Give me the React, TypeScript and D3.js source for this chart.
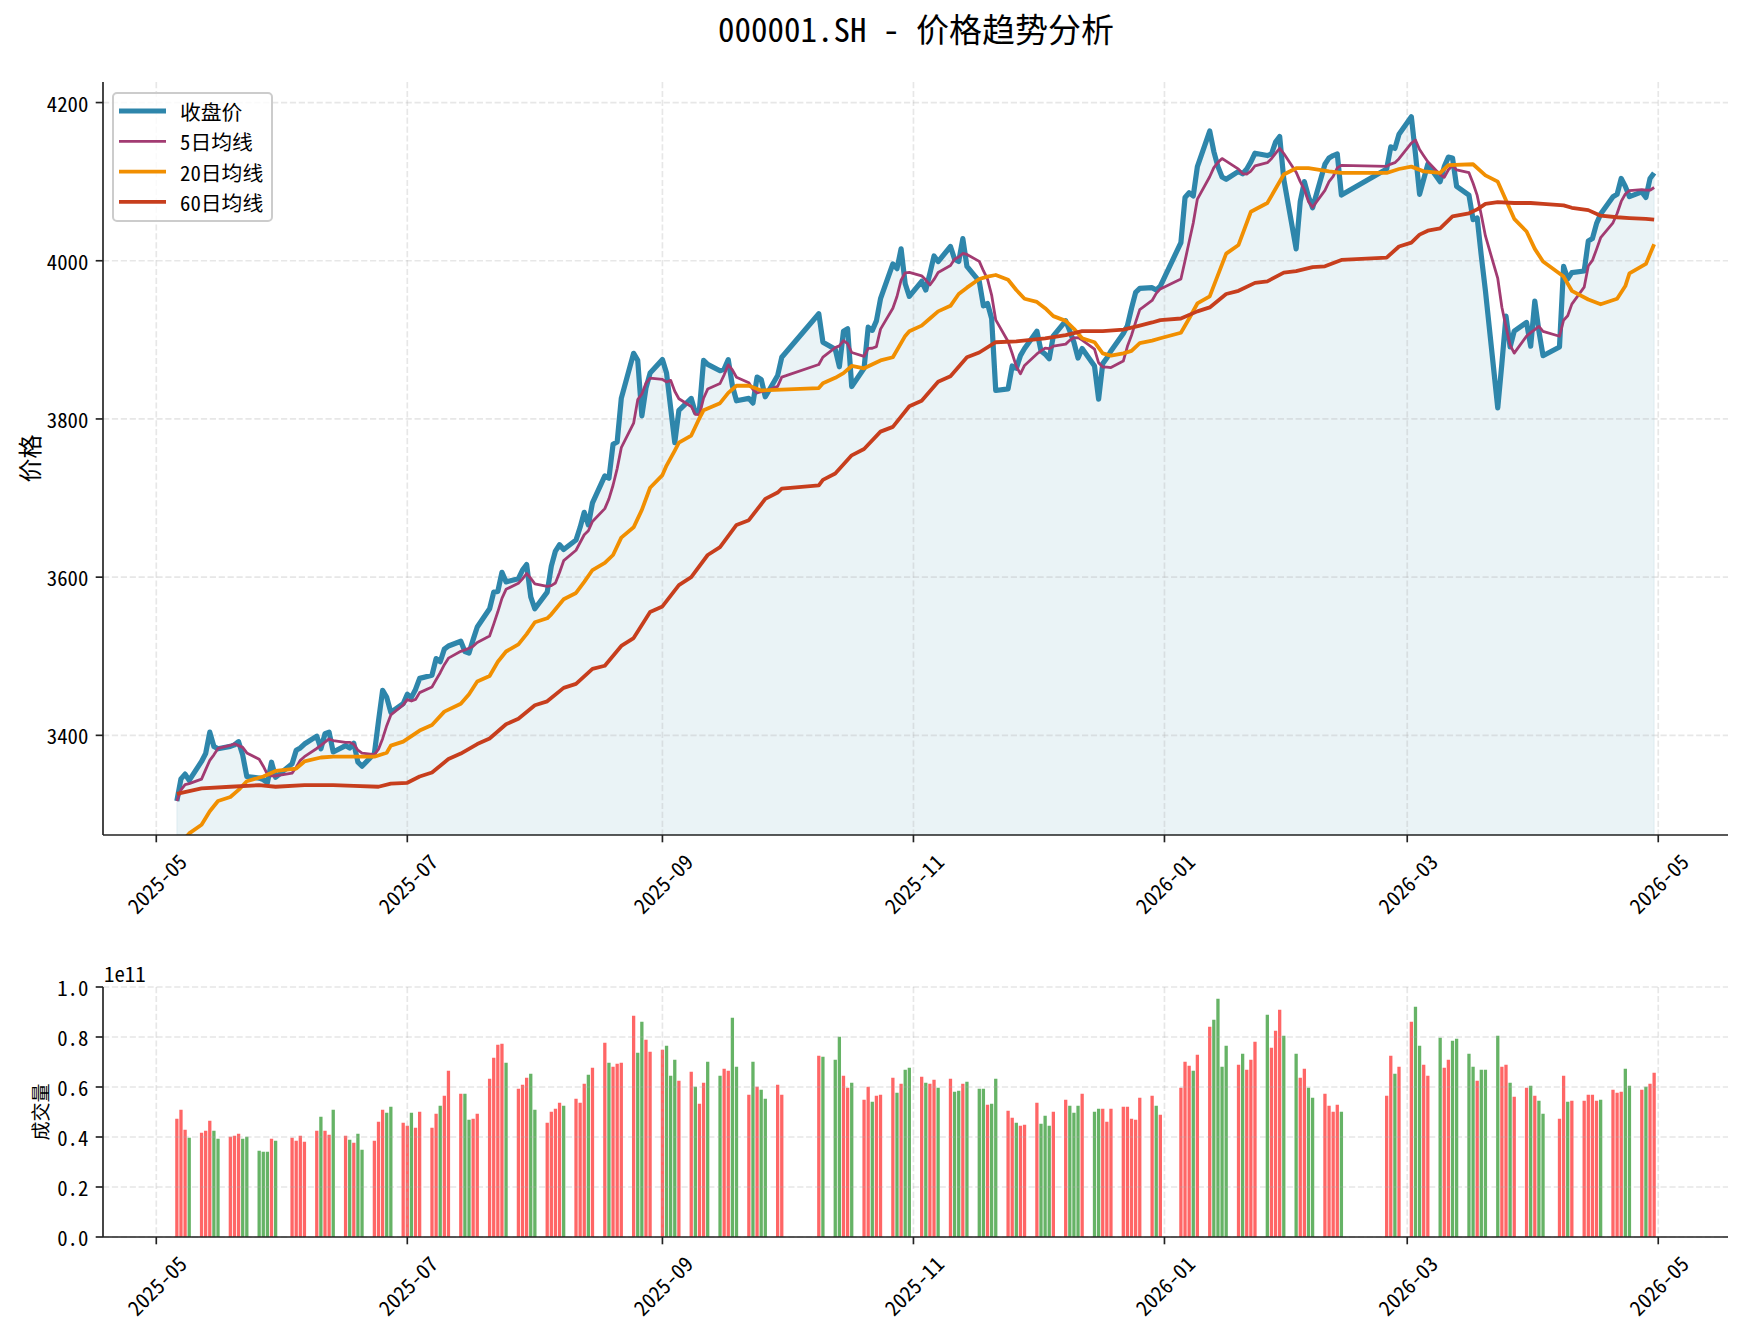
import { useMemo } from 'react';
import * as d3 from 'd3';

const WIDTH = 1745;
const HEIGHT = 1332;
const PRICE = { left: 103, right: 1728, top: 82, bottom: 835 };
const VOLUME = { left: 103, right: 1728, top: 987, bottom: 1237 };

const FONT = '"Noto Sans Mono CJK SC", "Noto Sans CJK SC", "DejaVu Sans", sans-serif';

const COLORS = {
  close: '#2E86AB',
  ma5: '#A23B72',
  ma20: '#F18F01',
  ma60: '#C73E1D',
  up: '#FF6666',
  down: '#66B366',
  grid: '#b0b0b0',
  axis: '#222222',
};

// 交易日，按月份列出
const tradingDays: [string, number[]][] = [
  ['2025-05', [6, 7, 8, 9, 12, 13, 14, 15, 16, 19, 20, 21, 22, 23, 26, 27, 28, 29, 30]],
  ['2025-06', [3, 4, 5, 6, 9, 10, 11, 12, 13, 16, 17, 18, 19, 20, 23, 24, 25, 26, 27, 30]],
  ['2025-07', [1, 2, 3, 4, 7, 8, 9, 10, 11, 14, 15, 16, 17, 18, 21, 22, 23, 24, 25, 28, 29, 30, 31]],
  ['2025-08', [1, 4, 5, 6, 7, 8, 11, 12, 13, 14, 15, 18, 19, 20, 21, 22, 25, 26, 27, 28, 29]],
  ['2025-09', [1, 2, 3, 4, 5, 8, 9, 10, 11, 12, 15, 16, 17, 18, 19, 22, 23, 24, 25, 26, 29, 30]],
  ['2025-10', [9, 10, 13, 14, 15, 16, 17, 20, 21, 22, 23, 24, 27, 28, 29, 30, 31]],
  ['2025-11', [3, 4, 5, 6, 7, 10, 11, 12, 13, 14, 17, 18, 19, 20, 21, 24, 25, 26, 27, 28]],
  ['2025-12', [1, 2, 3, 4, 5, 8, 9, 10, 11, 12, 15, 16, 17, 18, 19, 22, 23, 24, 25, 26, 29, 30, 31]],
  ['2026-01', [5, 6, 7, 8, 9, 12, 13, 14, 15, 16, 19, 20, 21, 22, 23, 26, 27, 28, 29, 30]],
  ['2026-02', [2, 3, 4, 5, 6, 9, 10, 11, 12, 13, 24, 25, 26, 27]],
  ['2026-03', [2, 3, 4, 5, 6, 9, 10, 11, 12, 13, 16, 17, 18, 19, 20, 23, 24, 25, 26, 27, 30, 31]],
  ['2026-04', [1, 2, 3, 7, 8, 9, 10, 13, 14, 15, 16, 17, 20, 21, 22, 23, 24, 27, 28, 29, 30]],
];

// 收盘价
const closePrices = [
  // 2025-05
  3317, 3345, 3351, 3343, 3367, 3377, 3404, 3386, 3383, 3386, 3388, 3392, 3375, 3348, 3346, 3344, 3340, 3366, 3347,
  // 2025-06
  3364, 3381, 3384, 3389, 3399, 3383, 3402, 3404, 3379, 3387, 3384, 3390, 3366, 3361, 3377, 3418, 3457, 3448, 3429, 3440,
  // 2025-07
  3452, 3448, 3458, 3472, 3476, 3497, 3493, 3509, 3513, 3519, 3506, 3504, 3521, 3537, 3560, 3581, 3582, 3606, 3594, 3598, 3609, 3616, 3575,
  // 2025-08
  3560, 3581, 3614, 3633, 3641, 3635, 3647, 3663, 3682, 3666, 3694, 3728, 3725, 3768, 3771, 3826, 3883, 3874, 3804, 3839, 3858,
  // 2025-09
  3875, 3858, 3814, 3770, 3811, 3826, 3808, 3812, 3874, 3869, 3861, 3863, 3875, 3842, 3823, 3826, 3820, 3853, 3850, 3828, 3855, 3878,
  // 2025-10
  3933, 3897, 3888, 3866, 3911, 3914, 3841, 3864, 3916, 3912, 3924, 3952, 3996, 3990, 4015, 3971, 3955,
  // 2025-11
  3974, 3963, 3984, 4006, 3999, 4018, 4002, 3999, 4028, 3993, 3974, 3943, 3946, 3927, 3836, 3838, 3867, 3864, 3880, 3889,
  // 2025-12
  3911, 3886, 3882, 3876, 3905, 3924, 3911, 3897, 3877, 3889, 3867, 3825, 3870, 3877, 3886, 3908, 3918, 3940, 3960, 3965, 3966, 3963, 3968,
  // 2026-01
  4023, 4080, 4086, 4082, 4119, 4164, 4138, 4119, 4106, 4103, 4113, 4110, 4116, 4125, 4136, 4133, 4135, 4150, 4157, 4103,
  // 2026-02
  4015, 4075, 4100, 4081, 4067, 4122, 4130, 4133, 4135, 4083, 4116, 4144, 4142, 4160,
  // 2026-03
  4182, 4135, 4084, 4103, 4122, 4100, 4119, 4131, 4130, 4094, 4083, 4052, 4054, 4006, 3962, 3814, 3870, 3930, 3891, 3911, 3922, 3892,
  // 2026-04
  3949, 3911, 3880, 3891, 3993, 3977, 3985, 3987, 4025, 4028, 4047, 4059, 4081, 4084, 4104, 4094, 4081, 4087, 4080, 4104, 4111,
];

// 成交量（单位 1e11）
const volumes = [
  0.473, 0.509, 0.429, 0.397, 0.417, 0.425, 0.465, 0.425, 0.393, 0.401, 0.405, 0.413, 0.393, 0.401, 0.345, 0.341, 0.341, 0.393, 0.385,
  0.397, 0.385, 0.405, 0.381, 0.425, 0.481, 0.425, 0.409, 0.509, 0.405, 0.389, 0.377, 0.413, 0.349, 0.385, 0.461, 0.509, 0.497, 0.521, 0.457,
  0.445, 0.497, 0.437, 0.501, 0.437, 0.493, 0.525, 0.565, 0.665, 0.573, 0.573, 0.469, 0.473, 0.493, 0.633, 0.717, 0.769, 0.773, 0.697, 0.593, 0.609, 0.637, 0.653,
  0.509, 0.457, 0.501, 0.513, 0.537, 0.525, 0.553, 0.537, 0.613, 0.649, 0.677, 0.777, 0.697, 0.681, 0.693, 0.697, 0.885, 0.737, 0.861, 0.789, 0.741,
  0.749, 0.765, 0.645, 0.709, 0.625, 0.661, 0.601, 0.533, 0.617, 0.701, 0.645, 0.673, 0.665, 0.877, 0.681, 0.569, 0.701, 0.601, 0.589, 0.553, 0.609, 0.569,
  0.725, 0.721, 0.709, 0.801, 0.645, 0.597, 0.617, 0.549, 0.601, 0.541, 0.565, 0.569, 0.637, 0.577, 0.613, 0.669, 0.677,
  0.641, 0.617, 0.613, 0.629, 0.597, 0.633, 0.581, 0.585, 0.613, 0.621, 0.593, 0.593, 0.529, 0.533, 0.633, 0.505, 0.477, 0.457, 0.445, 0.449,
  0.537, 0.453, 0.485, 0.445, 0.501, 0.549, 0.525, 0.497, 0.525, 0.573, 0.501, 0.513, 0.513, 0.461, 0.513, 0.521, 0.521, 0.473, 0.469, 0.557, 0.565, 0.525, 0.489,
  0.597, 0.701, 0.685, 0.665, 0.729, 0.841, 0.869, 0.953, 0.681, 0.765, 0.689, 0.733, 0.669, 0.709, 0.781, 0.889, 0.757, 0.825, 0.909, 0.805,
  0.733, 0.637, 0.673, 0.597, 0.557, 0.573, 0.525, 0.501, 0.529, 0.501, 0.565, 0.725, 0.653, 0.681,
  0.861, 0.921, 0.765, 0.689, 0.645, 0.797, 0.677, 0.709, 0.785, 0.793, 0.733, 0.681, 0.625, 0.669, 0.669, 0.805, 0.681, 0.689, 0.617, 0.561, 0.597, 0.605,
  0.565, 0.545, 0.493, 0.473, 0.645, 0.541, 0.545, 0.545, 0.569, 0.569, 0.545, 0.549, 0.589, 0.577, 0.581, 0.673, 0.605, 0.589, 0.601, 0.613, 0.657,
];

// 涨跌：r = 上涨（红），g = 下跌（绿），每月一行、每组一周
const volumeDirection = [
  'rrrg rrrgg rrrgg gggrg',
  'rrrr rgrrg rgrgg rrrgg r',
  'rgrr rrgrr rggrr rrrrg rrrg',
  'g rrrrg rrrgr rgrrr rggrr',
  'rgggr rgrrg grrgg rgrgg rr',
  'rg ggrrg rrgrr rgrgg',
  'rgrrg rggrg ggrgg rrgrr',
  'rgggr rgggr ggrrr rrrrr rgr',
  'rrrgr rgggg rgrrr grrrg',
  'grrgg rrrrg rrgr',
  'rggrr grrgg ggrgg grrgr rg',
  'rgg rrgr rrrrg rrrgg rgrr',
];

// 20日均线
const ma20Points: [string, number][] = [
  ['2025-05-06', 3258], ['2025-05-09', 3276], ['2025-05-12', 3287], ['2025-05-14', 3304], ['2025-05-16', 3317],
  ['2025-05-19', 3322], ['2025-05-21', 3331], ['2025-05-23', 3342], ['2025-05-27', 3348], ['2025-05-30', 3355],
  ['2025-06-04', 3358], ['2025-06-06', 3367], ['2025-06-10', 3372], ['2025-06-13', 3373], ['2025-06-18', 3373],
  ['2025-06-23', 3373], ['2025-06-26', 3378], ['2025-06-27', 3387], ['2025-06-30', 3392], ['2025-07-04', 3406],
  ['2025-07-07', 3413], ['2025-07-10', 3430], ['2025-07-14', 3440], ['2025-07-16', 3452], ['2025-07-18', 3468],
  ['2025-07-21', 3475], ['2025-07-23', 3493], ['2025-07-25', 3506], ['2025-07-28', 3515], ['2025-07-30', 3528],
  ['2025-08-01', 3543], ['2025-08-04', 3548], ['2025-08-05', 3553], ['2025-08-08', 3572], ['2025-08-11', 3580],
  ['2025-08-13', 3594], ['2025-08-15', 3609], ['2025-08-18', 3618], ['2025-08-20', 3628], ['2025-08-22', 3650],
  ['2025-08-25', 3663], ['2025-08-27', 3685], ['2025-08-29', 3713], ['2025-09-01', 3729], ['2025-09-02', 3741],
  ['2025-09-04', 3760], ['2025-09-05', 3770], ['2025-09-08', 3779], ['2025-09-10', 3801], ['2025-09-11', 3811],
  ['2025-09-15', 3820], ['2025-09-17', 3833], ['2025-09-19', 3842], ['2025-09-22', 3842], ['2025-09-25', 3836],
  ['2025-09-30', 3837], ['2025-10-09', 3839], ['2025-10-10', 3845], ['2025-10-13', 3852], ['2025-10-15', 3858],
  ['2025-10-17', 3867], ['2025-10-20', 3864], ['2025-10-24', 3874], ['2025-10-27', 3878], ['2025-10-30', 3905],
  ['2025-10-31', 3911], ['2025-11-03', 3918], ['2025-11-05', 3927], ['2025-11-07', 3936], ['2025-11-10', 3943],
  ['2025-11-12', 3958], ['2025-11-14', 3966], ['2025-11-17', 3977], ['2025-11-19', 3980], ['2025-11-21', 3982],
  ['2025-11-24', 3976], ['2025-11-26', 3963], ['2025-11-28', 3952], ['2025-12-01', 3948], ['2025-12-03', 3940],
  ['2025-12-05', 3930], ['2025-12-08', 3924], ['2025-12-10', 3914], ['2025-12-12', 3902], ['2025-12-15', 3897],
  ['2025-12-17', 3883], ['2025-12-19', 3880], ['2025-12-22', 3883], ['2025-12-24', 3886], ['2025-12-26', 3896],
  ['2025-12-29', 3899], ['2025-12-31', 3902], ['2026-01-05', 3909], ['2026-01-07', 3927], ['2026-01-09', 3946],
  ['2026-01-12', 3955], ['2026-01-16', 4009], ['2026-01-19', 4020], ['2026-01-22', 4062], ['2026-01-26', 4073],
  ['2026-01-30', 4109], ['2026-02-02', 4117], ['2026-02-05', 4117], ['2026-02-10', 4113], ['2026-02-13', 4111],
  ['2026-02-24', 4111], ['2026-02-27', 4116], ['2026-03-02', 4119], ['2026-03-05', 4113], ['2026-03-09', 4111],
  ['2026-03-11', 4121], ['2026-03-17', 4122], ['2026-03-20', 4108], ['2026-03-23', 4100], ['2026-03-27', 4053],
  ['2026-03-30', 4037], ['2026-04-01', 4015], ['2026-04-03', 3999], ['2026-04-08', 3980], ['2026-04-10', 3962],
  ['2026-04-14', 3951], ['2026-04-17', 3945], ['2026-04-21', 3952], ['2026-04-23', 3968], ['2026-04-24', 3984],
  ['2026-04-28', 3996], ['2026-04-30', 4021],
];

// 60日均线
const ma60Points: [string, number][] = [
  ['2025-05-06', 3326], ['2025-05-12', 3333], ['2025-05-19', 3335], ['2025-05-26', 3337], ['2025-05-30', 3335],
  ['2025-06-06', 3337], ['2025-06-13', 3337], ['2025-06-18', 3336], ['2025-06-24', 3335], ['2025-06-27', 3339],
  ['2025-07-01', 3340], ['2025-07-04', 3348], ['2025-07-07', 3353], ['2025-07-11', 3370], ['2025-07-14', 3377],
  ['2025-07-18', 3389], ['2025-07-21', 3396], ['2025-07-25', 3414], ['2025-07-28', 3421], ['2025-08-01', 3438],
  ['2025-08-04', 3443], ['2025-08-08', 3460], ['2025-08-11', 3465], ['2025-08-15', 3484], ['2025-08-18', 3488],
  ['2025-08-22', 3513], ['2025-08-25', 3523], ['2025-08-29', 3556], ['2025-09-01', 3563], ['2025-09-05', 3590],
  ['2025-09-08', 3600], ['2025-09-12', 3628], ['2025-09-15', 3638], ['2025-09-19', 3666], ['2025-09-22', 3672],
  ['2025-09-26', 3699], ['2025-09-29', 3707], ['2025-09-30', 3712], ['2025-10-09', 3716], ['2025-10-10', 3723],
  ['2025-10-13', 3731], ['2025-10-17', 3754], ['2025-10-20', 3762], ['2025-10-24', 3784], ['2025-10-27', 3790],
  ['2025-10-31', 3816], ['2025-11-03', 3823], ['2025-11-07', 3847], ['2025-11-10', 3854], ['2025-11-14', 3878],
  ['2025-11-17', 3884], ['2025-11-21', 3897], ['2025-11-26', 3898], ['2025-12-03', 3902], ['2025-12-08', 3906],
  ['2025-12-12', 3911], ['2025-12-17', 3911], ['2025-12-22', 3913], ['2025-12-26', 3918], ['2025-12-29', 3922],
  ['2025-12-31', 3925], ['2026-01-05', 3927], ['2026-01-09', 3936], ['2026-01-12', 3941], ['2026-01-16', 3958],
  ['2026-01-19', 3962], ['2026-01-23', 3972], ['2026-01-26', 3974], ['2026-01-30', 3985], ['2026-02-02', 3987],
  ['2026-02-06', 3992], ['2026-02-09', 3993], ['2026-02-13', 4001], ['2026-02-24', 4004], ['2026-02-27', 4018],
  ['2026-03-02', 4023], ['2026-03-04', 4033], ['2026-03-06', 4038], ['2026-03-09', 4041], ['2026-03-12', 4056],
  ['2026-03-16', 4060], ['2026-03-18', 4065], ['2026-03-20', 4072], ['2026-03-23', 4074], ['2026-03-27', 4073],
  ['2026-03-31', 4073], ['2026-04-03', 4072], ['2026-04-08', 4070], ['2026-04-10', 4067], ['2026-04-14', 4064],
  ['2026-04-17', 4057], ['2026-04-21', 4055], ['2026-04-24', 4054], ['2026-04-28', 4053], ['2026-04-30', 4052],
];

const monthTicks = ['2025-05-01', '2025-07-01', '2025-09-01', '2025-11-01', '2026-01-01', '2026-03-01', '2026-05-01'];
const priceTicks = [3400, 3600, 3800, 4000, 4200];
const volumeTicks = [0, 0.2, 0.4, 0.6, 0.8, 1.0];
const PRICE_DOMAIN: [number, number] = [3274, 4226];
const VOLUME_DOMAIN: [number, number] = [0, 1.0];

const DAY = 24 * 3600 * 1000;
const TICK_LEN = 7.3;
const TICK_FONT = 20.8;

const parseDate = d3.timeParse('%Y-%m-%d');

type Row = { date: Date; close: number; volume: number; up: boolean; ma5: number };

export default function App() {
  const rows: Row[] = useMemo(() => {
    const dates = tradingDays.flatMap(([ym, days]) =>
      days.map((d) => parseDate(`${ym}-${String(d).padStart(2, '0')}`)!)
    );
    const dirs = volumeDirection.join('').replace(/\s/g, '').split('');
    return dates.map((date, i) => ({
      date,
      close: closePrices[i],
      volume: volumes[i],
      up: dirs[i] === 'r',
      // 5日均线：最近五个收盘价的平均
      ma5: d3.mean(closePrices.slice(Math.max(0, i - 4), i + 1))!,
    }));
  }, []);

  const ma20 = useMemo(() => ma20Points.map(([d, v]) => ({ date: parseDate(d)!, value: v })), []);
  const ma60 = useMemo(() => ma60Points.map(([d, v]) => ({ date: parseDate(d)!, value: v })), []);

  // 与 matplotlib 一样两端各留 5% 的空白
  const xScale = useMemo(() => {
    const [first, last] = d3.extent(rows, (d) => d.date) as [Date, Date];
    const pad = (+last - +first) * 0.05;
    return d3
      .scaleTime()
      .domain([new Date(+first - pad), new Date(+last + pad)])
      .range([PRICE.left, PRICE.right]);
  }, [rows]);

  const yPrice = useMemo(
    () => d3.scaleLinear().domain(PRICE_DOMAIN).range([PRICE.bottom, PRICE.top]),
    []
  );
  const yVolume = useMemo(
    () => d3.scaleLinear().domain(VOLUME_DOMAIN).range([VOLUME.bottom, VOLUME.top]),
    []
  );

  const closeLine = d3
    .line<Row>()
    .x((d) => xScale(d.date))
    .y((d) => yPrice(d.close));
  const ma5Line = d3
    .line<Row>()
    .x((d) => xScale(d.date))
    .y((d) => yPrice(d.ma5));
  const maLine = d3
    .line<{ date: Date; value: number }>()
    .x((d) => xScale(d.date))
    .y((d) => yPrice(d.value));
  const closeArea = d3
    .area<Row>()
    .x((d) => xScale(d.date))
    .y0(PRICE.bottom)
    .y1((d) => yPrice(d.close));

  const ticks = monthTicks.map((t) => parseDate(t)!);
  const fmtMonth = d3.timeFormat('%Y-%m');
  const fmtVol = d3.format('.1f');

  const gridProps = {
    stroke: COLORS.grid,
    strokeOpacity: 0.3,
    strokeWidth: 1.67,
    strokeDasharray: '6.2,2.7',
  };

  const xTickLabels = (axisBottom: number) =>
    ticks.map((t, i) => {
      const x = xScale(t);
      const cy = axisBottom + TICK_LEN + 7.3 + 33.5;
      return (
        <g key={i}>
          <line x1={x} x2={x} y1={axisBottom} y2={axisBottom + TICK_LEN} stroke={COLORS.axis} strokeWidth={1.67} />
          <text
            x={x}
            y={cy}
            transform={`rotate(-45, ${x}, ${cy})`}
            textAnchor="middle"
            dominantBaseline="central"
            fontSize={TICK_FONT}
            fill="#000"
          >
            {fmtMonth(t)}
          </text>
        </g>
      );
    });

  const legendItems = [
    { label: '收盘价', color: COLORS.close, width: 5.2 },
    { label: '5日均线', color: COLORS.ma5, width: 2.8 },
    { label: '20日均线', color: COLORS.ma20, width: 3.8 },
    { label: '60日均线', color: COLORS.ma60, width: 3.8 },
  ];

  return (
    <div>
      <style>{`body { margin: 0; background: #fff; }`}</style>
      <svg width={WIDTH} height={HEIGHT} style={{ display: 'block', fontFamily: FONT }}>
        <defs>
          <clipPath id="price-clip">
            <rect x={PRICE.left} y={PRICE.top} width={PRICE.right - PRICE.left} height={PRICE.bottom - PRICE.top} />
          </clipPath>
        </defs>
        <rect width={WIDTH} height={HEIGHT} fill="#fff" />

        {/* 标题 */}
        <text x={916} y={42} textAnchor="middle" fontSize={33} fontWeight={400} fill="#000">
          000001.SH - 价格趋势分析
        </text>

        {/* 价格面板 */}
        <g clipPath="url(#price-clip)">
          <path d={closeArea(rows) ?? ''} fill={COLORS.close} fillOpacity={0.1} stroke={COLORS.close} strokeOpacity={0.1} />
        </g>
        {ticks.map((t, i) => (
          <line key={`pgx${i}`} x1={xScale(t)} x2={xScale(t)} y1={PRICE.top} y2={PRICE.bottom} {...gridProps} />
        ))}
        {priceTicks.map((v) => (
          <line key={`pgy${v}`} x1={PRICE.left} x2={PRICE.right} y1={yPrice(v)} y2={yPrice(v)} {...gridProps} />
        ))}
        <g clipPath="url(#price-clip)" fill="none" strokeLinejoin="round">
          <path d={closeLine(rows) ?? ''} stroke={COLORS.close} strokeWidth={5.2} />
          <path d={ma5Line(rows) ?? ''} stroke={COLORS.ma5} strokeWidth={2.8} />
          <path d={maLine(ma20) ?? ''} stroke={COLORS.ma20} strokeWidth={3.8} />
          <path d={maLine(ma60) ?? ''} stroke={COLORS.ma60} strokeWidth={3.8} />
        </g>

        {/* 价格坐标轴 */}
        <line x1={PRICE.left} x2={PRICE.left} y1={PRICE.top} y2={PRICE.bottom} stroke={COLORS.axis} strokeWidth={1.67} />
        <line x1={PRICE.left} x2={PRICE.right} y1={PRICE.bottom} y2={PRICE.bottom} stroke={COLORS.axis} strokeWidth={1.67} />
        {priceTicks.map((v) => (
          <g key={`pty${v}`}>
            <line x1={PRICE.left - TICK_LEN} x2={PRICE.left} y1={yPrice(v)} y2={yPrice(v)} stroke={COLORS.axis} strokeWidth={1.67} />
            <text x={PRICE.left - TICK_LEN - 7.3} y={yPrice(v)} textAnchor="end" dominantBaseline="central" fontSize={TICK_FONT}>
              {v}
            </text>
          </g>
        ))}
        {xTickLabels(PRICE.bottom)}
        <text
          x={28}
          y={(PRICE.top + PRICE.bottom) / 2}
          transform={`rotate(-90, 28, ${(PRICE.top + PRICE.bottom) / 2})`}
          textAnchor="middle"
          dominantBaseline="central"
          fontSize={24}
        >
          价格
        </text>

        {/* 图例 */}
        <g>
          <rect x={113} y={93} width={159} height={128} rx={4} fill="#fff" fillOpacity={0.8} stroke="#cccccc" strokeWidth={2} />
          {legendItems.map((item, i) => {
            const cy = 111 + i * 30.3;
            return (
              <g key={item.label}>
                <line x1={119} x2={166} y1={cy} y2={cy} stroke={item.color} strokeWidth={item.width} />
                <text x={180} y={cy} dominantBaseline="central" fontSize={TICK_FONT}>
                  {item.label}
                </text>
              </g>
            );
          })}
        </g>

        {/* 成交量面板 */}
        {rows.map((d, i) => {
          const x0 = xScale(new Date(+d.date - 0.4 * DAY));
          const x1 = xScale(new Date(+d.date + 0.4 * DAY));
          return (
            <rect
              key={`bar${i}`}
              x={x0}
              y={yVolume(d.volume)}
              width={x1 - x0}
              height={yVolume(0) - yVolume(d.volume)}
              fill={d.up ? COLORS.up : COLORS.down}
            />
          );
        })}
        {ticks.map((t, i) => (
          <line key={`vgx${i}`} x1={xScale(t)} x2={xScale(t)} y1={VOLUME.top} y2={VOLUME.bottom} {...gridProps} />
        ))}
        {volumeTicks.map((v) => (
          <line key={`vgy${v}`} x1={VOLUME.left} x2={VOLUME.right} y1={yVolume(v)} y2={yVolume(v)} {...gridProps} />
        ))}
        <line x1={VOLUME.left} x2={VOLUME.left} y1={VOLUME.top} y2={VOLUME.bottom} stroke={COLORS.axis} strokeWidth={1.67} />
        <line x1={VOLUME.left} x2={VOLUME.right} y1={VOLUME.bottom} y2={VOLUME.bottom} stroke={COLORS.axis} strokeWidth={1.67} />
        {volumeTicks.map((v) => (
          <g key={`vty${v}`}>
            <line x1={VOLUME.left - TICK_LEN} x2={VOLUME.left} y1={yVolume(v)} y2={yVolume(v)} stroke={COLORS.axis} strokeWidth={1.67} />
            <text x={VOLUME.left - TICK_LEN - 7.3} y={yVolume(v)} textAnchor="end" dominantBaseline="central" fontSize={TICK_FONT}>
              {fmtVol(v)}
            </text>
          </g>
        ))}
        <text x={104} y={982} fontSize={TICK_FONT}>
          1e11
        </text>
        {xTickLabels(VOLUME.bottom)}
        <text
          x={39}
          y={(VOLUME.top + VOLUME.bottom) / 2}
          transform={`rotate(-90, 39, ${(VOLUME.top + VOLUME.bottom) / 2})`}
          textAnchor="middle"
          dominantBaseline="central"
          fontSize={19}
        >
          成交量
        </text>
      </svg>
    </div>
  );
}
